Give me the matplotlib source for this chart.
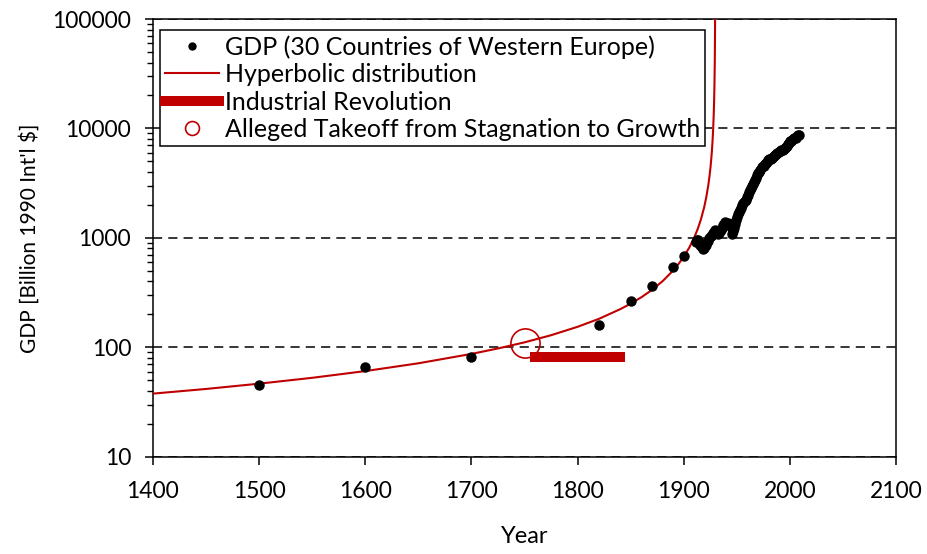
import matplotlib
matplotlib.use('Agg')
import matplotlib.pyplot as plt

plt.rcParams['font.family'] = ['Lato', 'DejaVu Sans']

# GDP, 30 Western European countries (billion 1990 Int'l $)
gdp_years = [1500, 1600, 1700, 1820, 1850, 1870, 1890, 1900,
             1911, 1912, 1913, 1914, 1915, 1916, 1917, 1918, 1919, 1920,
             1921, 1922, 1923, 1924, 1925, 1926, 1927, 1928, 1929, 1930,
             1931, 1932, 1933, 1934, 1935, 1936, 1937, 1938, 1939, 1940,
             1941, 1942, 1943, 1944, 1945, 1946, 1947, 1948, 1949, 1950,
             1951, 1952, 1953, 1954, 1955, 1956, 1957, 1958, 1959, 1960,
             1961, 1962, 1963, 1964, 1965, 1966, 1967, 1968, 1969, 1970,
             1971, 1972, 1973, 1974, 1975, 1976, 1977, 1978, 1979, 1980,
             1981, 1982, 1983, 1984, 1985, 1986, 1987, 1988, 1989, 1990,
             1991, 1992, 1993, 1994, 1995, 1996, 1997, 1998, 1999, 2000,
             2001, 2002, 2003, 2004, 2005, 2006, 2007, 2008]
gdp_values = [45, 66, 82, 161, 265, 366, 537, 678,
              920, 950, 960, 900, 860, 850, 820, 790, 800, 840,
              860, 920, 940, 1000, 1040, 1060, 1100, 1140, 1170, 1150,
              1100, 1080, 1110, 1150, 1190, 1240, 1300, 1340, 1390, 1360,
              1380, 1350, 1330, 1250, 1080, 1150, 1230, 1340, 1450, 1560,
              1650, 1720, 1800, 1890, 2000, 2090, 2180, 2240, 2340, 2480,
              2600, 2720, 2840, 3000, 3130, 3250, 3360, 3520, 3720, 3900,
              4030, 4200, 4440, 4530, 4500, 4700, 4830, 4980, 5150, 5230,
              5250, 5300, 5390, 5500, 5600, 5720, 5850, 6000, 6150, 6250,
              6330, 6400, 6380, 6530, 6680, 6800, 6970, 7150, 7350, 7600,
              7750, 7850, 7950, 8100, 8250, 8450, 8620, 8750]

# hyperbolic curve, points
hyp_years = [1400, 1450, 1500, 1550, 1600, 1650, 1700, 1725, 1750, 1775,
             1800, 1820, 1840, 1850, 1860, 1870, 1880, 1890, 1895, 1900,
             1905, 1910, 1913, 1916, 1919, 1921, 1923, 1924, 1925, 1926,
             1926.5, 1927, 1927.5, 1928, 1928.4, 1928.7, 1929, 1929.2, 1929.3]
hyp_values = [37.7, 41.6, 46.5, 52.6, 60.6, 71.4, 87.0, 97.6, 111, 129,
              154, 182, 223, 251, 287, 335, 403, 505, 579, 677,
              815, 1024, 1210, 1479, 1901, 2348, 3071, 3629, 4436, 5703,
              6653, 7984, 9980, 13307, 18145, 24950, 39920, 66533, 99800]

# Industrial Revolution span and takeoff point
ir_years = [1760, 1840]
ir_values = [81, 81]
takeoff_year = [1750]
takeoff_value = [109]

xticks = [1400, 1500, 1600, 1700, 1800, 1900, 2000, 2100]
yticks = [10, 100, 1000, 10000, 100000]

red = '#C00000'

fig = plt.figure(figsize=(9.28, 5.54), dpi=100)
ax = fig.add_subplot(111)
fig.subplots_adjust(left=0.1646, right=0.966, top=0.9657, bottom=0.1756)

ax.plot(gdp_years, gdp_values, 'o', color='black', markersize=6.5,
        label='GDP (30 Countries of Western Europe)', zorder=4)
ax.plot(hyp_years, hyp_values, '-', color=red, lw=1.5,
        label='Hyperbolic distribution', zorder=3)
ax.plot(ir_years, ir_values, '-', color=red, lw=7.2, solid_capstyle='projecting',
        label='Industrial Revolution', zorder=3)
ax.plot(takeoff_year, takeoff_value, 'o', markerfacecolor='none', markeredgecolor=red,
        markeredgewidth=1.2, markersize=21, label='Alleged Takeoff from Stagnation to Growth',
        zorder=5)

ax.set_yscale('log')
ax.set_xlim(1400, 2100)
ax.set_ylim(10, 100000)
ax.set_xticks(xticks)
ax.set_xticklabels([str(v) for v in xticks])
ax.set_yticks(yticks)
ax.set_yticklabels([str(v) for v in yticks])

ax.yaxis.grid(True, which='major', linestyle=(0, (6, 4)), color='black', lw=1.1)
ax.set_axisbelow(True)

ax.tick_params(axis='both', which='major', direction='out', length=5.5, width=1.1,
               labelsize=16.5, colors='black')
ax.tick_params(axis='x', which='major', pad=12)
ax.tick_params(axis='y', which='major', pad=10)
ax.tick_params(axis='y', which='minor', direction='out', length=4, width=1.0)
for s in ax.spines.values():
    s.set_linewidth(1.1)

ax.set_xlabel('Year', fontsize=17)
ax.xaxis.set_label_coords(0.5, -0.158)
ax.set_ylabel("GDP [Billion 1990 Int'l \\$]", fontsize=15)
ax.yaxis.set_label_coords(-0.152, 0.5)

leg = ax.legend(loc='upper left', bbox_to_anchor=(0.0098, 0.975), borderaxespad=0,
                fontsize=18, frameon=True, fancybox=False, edgecolor='black',
                framealpha=1, handlelength=2.15, handletextpad=0.25,
                borderpad=0.2, labelspacing=0.18)
leg.get_frame().set_linewidth(1.1)
leg.legend_handles[0].set_markersize(5)
leg.legend_handles[3].set_markersize(10)

fig.savefig('out.png', dpi=100)
